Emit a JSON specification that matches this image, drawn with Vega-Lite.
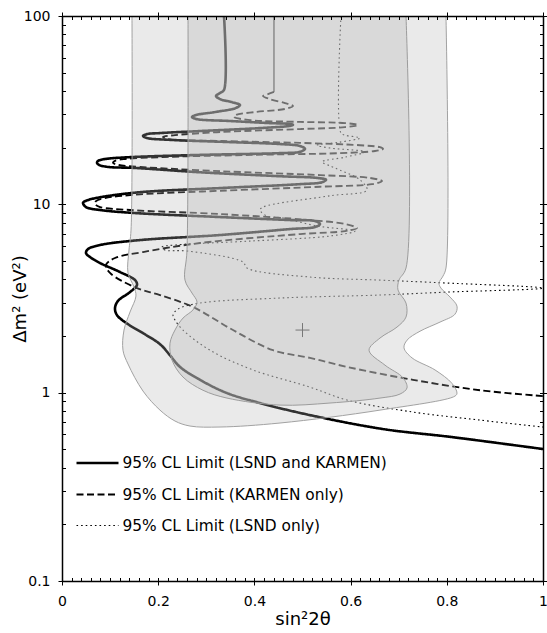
{
  "$schema": "https://vega.github.io/schema/vega-lite/v6.json",
  "width": 481,
  "height": 565,
  "autosize": "none",
  "padding": {"left": 62, "top": 16, "right": 4, "bottom": 52},
  "config": {"font": "DejaVu Sans", "view": {"stroke": null}, "axis": {"grid": false}},
  "datasets": {
    "lines": [
      {"s": "95% CL Limit (LSND and KARMEN)", "i": 1, "x": 0.3368, "y": 100},
      {"s": "95% CL Limit (LSND and KARMEN)", "i": 2, "x": 0.3368, "y": 40.5},
      {"s": "95% CL Limit (LSND and KARMEN)", "i": 3, "x": 0.3285, "y": 39.0},
      {"s": "95% CL Limit (LSND and KARMEN)", "i": 4, "x": 0.3202, "y": 37.6},
      {"s": "95% CL Limit (LSND and KARMEN)", "i": 5, "x": 0.3285, "y": 36.2},
      {"s": "95% CL Limit (LSND and KARMEN)", "i": 6, "x": 0.3534, "y": 34.9},
      {"s": "95% CL Limit (LSND and KARMEN)", "i": 7, "x": 0.3701, "y": 33.7},
      {"s": "95% CL Limit (LSND and KARMEN)", "i": 8, "x": 0.3617, "y": 32.5},
      {"s": "95% CL Limit (LSND and KARMEN)", "i": 9, "x": 0.3181, "y": 30.9},
      {"s": "95% CL Limit (LSND and KARMEN)", "i": 10, "x": 0.2786, "y": 29.8},
      {"s": "95% CL Limit (LSND and KARMEN)", "i": 11, "x": 0.2703, "y": 29.1},
      {"s": "95% CL Limit (LSND and KARMEN)", "i": 12, "x": 0.2786, "y": 28.4},
      {"s": "95% CL Limit (LSND and KARMEN)", "i": 13, "x": 0.3493, "y": 27.7},
      {"s": "95% CL Limit (LSND and KARMEN)", "i": 14, "x": 0.4324, "y": 27.0},
      {"s": "95% CL Limit (LSND and KARMEN)", "i": 15, "x": 0.4740, "y": 26.7},
      {"s": "95% CL Limit (LSND and KARMEN)", "i": 16, "x": 0.4802, "y": 26.4},
      {"s": "95% CL Limit (LSND and KARMEN)", "i": 17, "x": 0.4740, "y": 26.1},
      {"s": "95% CL Limit (LSND and KARMEN)", "i": 18, "x": 0.4116, "y": 25.4},
      {"s": "95% CL Limit (LSND and KARMEN)", "i": 19, "x": 0.2869, "y": 24.5},
      {"s": "95% CL Limit (LSND and KARMEN)", "i": 20, "x": 0.2037, "y": 23.9},
      {"s": "95% CL Limit (LSND and KARMEN)", "i": 21, "x": 0.1767, "y": 23.6},
      {"s": "95% CL Limit (LSND and KARMEN)", "i": 22, "x": 0.1684, "y": 23.1},
      {"s": "95% CL Limit (LSND and KARMEN)", "i": 23, "x": 0.1767, "y": 22.5},
      {"s": "95% CL Limit (LSND and KARMEN)", "i": 24, "x": 0.2245, "y": 22.0},
      {"s": "95% CL Limit (LSND and KARMEN)", "i": 25, "x": 0.3493, "y": 21.4},
      {"s": "95% CL Limit (LSND and KARMEN)", "i": 26, "x": 0.4532, "y": 20.9},
      {"s": "95% CL Limit (LSND and KARMEN)", "i": 27, "x": 0.4948, "y": 20.4},
      {"s": "95% CL Limit (LSND and KARMEN)", "i": 28, "x": 0.5052, "y": 19.7},
      {"s": "95% CL Limit (LSND and KARMEN)", "i": 29, "x": 0.4948, "y": 19.0},
      {"s": "95% CL Limit (LSND and KARMEN)", "i": 30, "x": 0.4532, "y": 18.7},
      {"s": "95% CL Limit (LSND and KARMEN)", "i": 31, "x": 0.2869, "y": 18.3},
      {"s": "95% CL Limit (LSND and KARMEN)", "i": 32, "x": 0.1414, "y": 17.8},
      {"s": "95% CL Limit (LSND and KARMEN)", "i": 33, "x": 0.0894, "y": 17.4},
      {"s": "95% CL Limit (LSND and KARMEN)", "i": 34, "x": 0.0748, "y": 17.0},
      {"s": "95% CL Limit (LSND and KARMEN)", "i": 35, "x": 0.0728, "y": 16.6},
      {"s": "95% CL Limit (LSND and KARMEN)", "i": 36, "x": 0.0769, "y": 16.2},
      {"s": "95% CL Limit (LSND and KARMEN)", "i": 37, "x": 0.0956, "y": 15.8},
      {"s": "95% CL Limit (LSND and KARMEN)", "i": 38, "x": 0.1518, "y": 15.6},
      {"s": "95% CL Limit (LSND and KARMEN)", "i": 39, "x": 0.2869, "y": 14.8},
      {"s": "95% CL Limit (LSND and KARMEN)", "i": 40, "x": 0.4532, "y": 14.1},
      {"s": "95% CL Limit (LSND and KARMEN)", "i": 41, "x": 0.5322, "y": 13.8},
      {"s": "95% CL Limit (LSND and KARMEN)", "i": 42, "x": 0.5489, "y": 13.5},
      {"s": "95% CL Limit (LSND and KARMEN)", "i": 43, "x": 0.5405, "y": 13.1},
      {"s": "95% CL Limit (LSND and KARMEN)", "i": 44, "x": 0.4948, "y": 12.8},
      {"s": "95% CL Limit (LSND and KARMEN)", "i": 45, "x": 0.3285, "y": 12.2},
      {"s": "95% CL Limit (LSND and KARMEN)", "i": 46, "x": 0.1622, "y": 11.6},
      {"s": "95% CL Limit (LSND and KARMEN)", "i": 47, "x": 0.0790, "y": 10.9},
      {"s": "95% CL Limit (LSND and KARMEN)", "i": 48, "x": 0.0520, "y": 10.5},
      {"s": "95% CL Limit (LSND and KARMEN)", "i": 49, "x": 0.0437, "y": 10.2},
      {"s": "95% CL Limit (LSND and KARMEN)", "i": 50, "x": 0.0499, "y": 9.67},
      {"s": "95% CL Limit (LSND and KARMEN)", "i": 51, "x": 0.0790, "y": 9.33},
      {"s": "95% CL Limit (LSND and KARMEN)", "i": 52, "x": 0.1518, "y": 8.99},
      {"s": "95% CL Limit (LSND and KARMEN)", "i": 53, "x": 0.3285, "y": 8.56},
      {"s": "95% CL Limit (LSND and KARMEN)", "i": 54, "x": 0.4740, "y": 8.25},
      {"s": "95% CL Limit (LSND and KARMEN)", "i": 55, "x": 0.5260, "y": 8.15},
      {"s": "95% CL Limit (LSND and KARMEN)", "i": 56, "x": 0.5364, "y": 7.86},
      {"s": "95% CL Limit (LSND and KARMEN)", "i": 57, "x": 0.5260, "y": 7.58},
      {"s": "95% CL Limit (LSND and KARMEN)", "i": 58, "x": 0.4740, "y": 7.39},
      {"s": "95% CL Limit (LSND and KARMEN)", "i": 59, "x": 0.3285, "y": 6.87},
      {"s": "95% CL Limit (LSND and KARMEN)", "i": 60, "x": 0.1622, "y": 6.46},
      {"s": "95% CL Limit (LSND and KARMEN)", "i": 61, "x": 0.0790, "y": 6.08},
      {"s": "95% CL Limit (LSND and KARMEN)", "i": 62, "x": 0.0541, "y": 5.79},
      {"s": "95% CL Limit (LSND and KARMEN)", "i": 63, "x": 0.0499, "y": 5.51},
      {"s": "95% CL Limit (LSND and KARMEN)", "i": 64, "x": 0.0582, "y": 5.25},
      {"s": "95% CL Limit (LSND and KARMEN)", "i": 65, "x": 0.0790, "y": 4.88},
      {"s": "95% CL Limit (LSND and KARMEN)", "i": 66, "x": 0.1206, "y": 4.37},
      {"s": "95% CL Limit (LSND and KARMEN)", "i": 67, "x": 0.1518, "y": 3.96},
      {"s": "95% CL Limit (LSND and KARMEN)", "i": 68, "x": 0.1559, "y": 3.73},
      {"s": "95% CL Limit (LSND and KARMEN)", "i": 69, "x": 0.1414, "y": 3.42},
      {"s": "95% CL Limit (LSND and KARMEN)", "i": 70, "x": 0.1164, "y": 3.07},
      {"s": "95% CL Limit (LSND and KARMEN)", "i": 71, "x": 0.1102, "y": 2.81},
      {"s": "95% CL Limit (LSND and KARMEN)", "i": 72, "x": 0.1143, "y": 2.58},
      {"s": "95% CL Limit (LSND and KARMEN)", "i": 73, "x": 0.1372, "y": 2.31},
      {"s": "95% CL Limit (LSND and KARMEN)", "i": 74, "x": 0.1684, "y": 2.07},
      {"s": "95% CL Limit (LSND and KARMEN)", "i": 75, "x": 0.2037, "y": 1.81},
      {"s": "95% CL Limit (LSND and KARMEN)", "i": 76, "x": 0.2245, "y": 1.58},
      {"s": "95% CL Limit (LSND and KARMEN)", "i": 77, "x": 0.2453, "y": 1.37},
      {"s": "95% CL Limit (LSND and KARMEN)", "i": 78, "x": 0.2869, "y": 1.17},
      {"s": "95% CL Limit (LSND and KARMEN)", "i": 79, "x": 0.3430, "y": 0.995},
      {"s": "95% CL Limit (LSND and KARMEN)", "i": 80, "x": 0.4116, "y": 0.881},
      {"s": "95% CL Limit (LSND and KARMEN)", "i": 81, "x": 0.5156, "y": 0.760},
      {"s": "95% CL Limit (LSND and KARMEN)", "i": 82, "x": 0.6674, "y": 0.641},
      {"s": "95% CL Limit (LSND and KARMEN)", "i": 83, "x": 0.8108, "y": 0.581},
      {"s": "95% CL Limit (LSND and KARMEN)", "i": 84, "x": 1.0, "y": 0.502},

      {"s": "95% CL Limit (KARMEN only)", "i": 1, "x": 0.4407, "y": 39.5},
      {"s": "95% CL Limit (KARMEN only)", "i": 2, "x": 0.4283, "y": 38.5},
      {"s": "95% CL Limit (KARMEN only)", "i": 3, "x": 0.4179, "y": 37.6},
      {"s": "95% CL Limit (KARMEN only)", "i": 4, "x": 0.4324, "y": 36.2},
      {"s": "95% CL Limit (KARMEN only)", "i": 5, "x": 0.4636, "y": 34.5},
      {"s": "95% CL Limit (KARMEN only)", "i": 6, "x": 0.4802, "y": 33.3},
      {"s": "95% CL Limit (KARMEN only)", "i": 7, "x": 0.4636, "y": 32.1},
      {"s": "95% CL Limit (KARMEN only)", "i": 8, "x": 0.4012, "y": 30.9},
      {"s": "95% CL Limit (KARMEN only)", "i": 9, "x": 0.3617, "y": 29.8},
      {"s": "95% CL Limit (KARMEN only)", "i": 10, "x": 0.3576, "y": 29.1},
      {"s": "95% CL Limit (KARMEN only)", "i": 11, "x": 0.3909, "y": 28.0},
      {"s": "95% CL Limit (KARMEN only)", "i": 12, "x": 0.4948, "y": 27.4},
      {"s": "95% CL Limit (KARMEN only)", "i": 13, "x": 0.5884, "y": 27.0},
      {"s": "95% CL Limit (KARMEN only)", "i": 14, "x": 0.6154, "y": 26.4},
      {"s": "95% CL Limit (KARMEN only)", "i": 15, "x": 0.5884, "y": 25.7},
      {"s": "95% CL Limit (KARMEN only)", "i": 16, "x": 0.4948, "y": 25.1},
      {"s": "95% CL Limit (KARMEN only)", "i": 17, "x": 0.3285, "y": 24.2},
      {"s": "95% CL Limit (KARMEN only)", "i": 18, "x": 0.2349, "y": 23.3},
      {"s": "95% CL Limit (KARMEN only)", "i": 19, "x": 0.2100, "y": 22.8},
      {"s": "95% CL Limit (KARMEN only)", "i": 20, "x": 0.2204, "y": 22.2},
      {"s": "95% CL Limit (KARMEN only)", "i": 21, "x": 0.3285, "y": 21.7},
      {"s": "95% CL Limit (KARMEN only)", "i": 22, "x": 0.4948, "y": 21.2},
      {"s": "95% CL Limit (KARMEN only)", "i": 23, "x": 0.6195, "y": 20.6},
      {"s": "95% CL Limit (KARMEN only)", "i": 24, "x": 0.6611, "y": 20.1},
      {"s": "95% CL Limit (KARMEN only)", "i": 25, "x": 0.6674, "y": 19.7},
      {"s": "95% CL Limit (KARMEN only)", "i": 26, "x": 0.6507, "y": 19.2},
      {"s": "95% CL Limit (KARMEN only)", "i": 27, "x": 0.5780, "y": 18.7},
      {"s": "95% CL Limit (KARMEN only)", "i": 28, "x": 0.3909, "y": 18.3},
      {"s": "95% CL Limit (KARMEN only)", "i": 29, "x": 0.2037, "y": 17.8},
      {"s": "95% CL Limit (KARMEN only)", "i": 30, "x": 0.1310, "y": 17.4},
      {"s": "95% CL Limit (KARMEN only)", "i": 31, "x": 0.1102, "y": 17.0},
      {"s": "95% CL Limit (KARMEN only)", "i": 32, "x": 0.1060, "y": 16.6},
      {"s": "95% CL Limit (KARMEN only)", "i": 33, "x": 0.1164, "y": 16.2},
      {"s": "95% CL Limit (KARMEN only)", "i": 34, "x": 0.1622, "y": 15.8},
      {"s": "95% CL Limit (KARMEN only)", "i": 35, "x": 0.3285, "y": 15.0},
      {"s": "95% CL Limit (KARMEN only)", "i": 36, "x": 0.5364, "y": 14.3},
      {"s": "95% CL Limit (KARMEN only)", "i": 37, "x": 0.6403, "y": 13.8},
      {"s": "95% CL Limit (KARMEN only)", "i": 38, "x": 0.6653, "y": 13.3},
      {"s": "95% CL Limit (KARMEN only)", "i": 39, "x": 0.6445, "y": 12.8},
      {"s": "95% CL Limit (KARMEN only)", "i": 40, "x": 0.5364, "y": 12.4},
      {"s": "95% CL Limit (KARMEN only)", "i": 41, "x": 0.3285, "y": 11.8},
      {"s": "95% CL Limit (KARMEN only)", "i": 42, "x": 0.1622, "y": 11.3},
      {"s": "95% CL Limit (KARMEN only)", "i": 43, "x": 0.0894, "y": 10.8},
      {"s": "95% CL Limit (KARMEN only)", "i": 44, "x": 0.0707, "y": 10.4},
      {"s": "95% CL Limit (KARMEN only)", "i": 45, "x": 0.0686, "y": 10.04},
      {"s": "95% CL Limit (KARMEN only)", "i": 46, "x": 0.0790, "y": 9.67},
      {"s": "95% CL Limit (KARMEN only)", "i": 47, "x": 0.1414, "y": 9.33},
      {"s": "95% CL Limit (KARMEN only)", "i": 48, "x": 0.3285, "y": 8.88},
      {"s": "95% CL Limit (KARMEN only)", "i": 49, "x": 0.5156, "y": 8.25},
      {"s": "95% CL Limit (KARMEN only)", "i": 50, "x": 0.5884, "y": 7.86},
      {"s": "95% CL Limit (KARMEN only)", "i": 51, "x": 0.6133, "y": 7.48},
      {"s": "95% CL Limit (KARMEN only)", "i": 52, "x": 0.5884, "y": 7.21},
      {"s": "95% CL Limit (KARMEN only)", "i": 53, "x": 0.4948, "y": 6.95},
      {"s": "95% CL Limit (KARMEN only)", "i": 54, "x": 0.2869, "y": 6.23},
      {"s": "95% CL Limit (KARMEN only)", "i": 55, "x": 0.1684, "y": 5.58},
      {"s": "95% CL Limit (KARMEN only)", "i": 56, "x": 0.1102, "y": 5.19},
      {"s": "95% CL Limit (KARMEN only)", "i": 57, "x": 0.0915, "y": 4.76},
      {"s": "95% CL Limit (KARMEN only)", "i": 58, "x": 0.0998, "y": 4.32},
      {"s": "95% CL Limit (KARMEN only)", "i": 59, "x": 0.1559, "y": 3.59},
      {"s": "95% CL Limit (KARMEN only)", "i": 60, "x": 0.2037, "y": 3.30},
      {"s": "95% CL Limit (KARMEN only)", "i": 61, "x": 0.2723, "y": 2.85},
      {"s": "95% CL Limit (KARMEN only)", "i": 62, "x": 0.3555, "y": 2.15},
      {"s": "95% CL Limit (KARMEN only)", "i": 63, "x": 0.4387, "y": 1.68},
      {"s": "95% CL Limit (KARMEN only)", "i": 64, "x": 0.5156, "y": 1.53},
      {"s": "95% CL Limit (KARMEN only)", "i": 65, "x": 0.5925, "y": 1.37},
      {"s": "95% CL Limit (KARMEN only)", "i": 66, "x": 0.7297, "y": 1.17},
      {"s": "95% CL Limit (KARMEN only)", "i": 67, "x": 0.8690, "y": 1.03},
      {"s": "95% CL Limit (KARMEN only)", "i": 68, "x": 1.0, "y": 0.959},

      {"s": "95% CL Limit (LSND only)", "i": 1, "x": 0.5800, "y": 100},
      {"s": "95% CL Limit (LSND only)", "i": 2, "x": 0.5800, "y": 23.9},
      {"s": "95% CL Limit (LSND only)", "i": 3, "x": 0.5884, "y": 23.3},
      {"s": "95% CL Limit (LSND only)", "i": 4, "x": 0.6195, "y": 22.5},
      {"s": "95% CL Limit (LSND only)", "i": 5, "x": 0.5780, "y": 21.4},
      {"s": "95% CL Limit (LSND only)", "i": 6, "x": 0.5301, "y": 20.6},
      {"s": "95% CL Limit (LSND only)", "i": 7, "x": 0.5572, "y": 19.9},
      {"s": "95% CL Limit (LSND only)", "i": 8, "x": 0.6299, "y": 19.0},
      {"s": "95% CL Limit (LSND only)", "i": 9, "x": 0.5884, "y": 17.8},
      {"s": "95% CL Limit (LSND only)", "i": 10, "x": 0.5405, "y": 16.8},
      {"s": "95% CL Limit (LSND only)", "i": 11, "x": 0.5572, "y": 16.0},
      {"s": "95% CL Limit (LSND only)", "i": 12, "x": 0.5780, "y": 15.2},
      {"s": "95% CL Limit (LSND only)", "i": 13, "x": 0.6195, "y": 13.5},
      {"s": "95% CL Limit (LSND only)", "i": 14, "x": 0.6341, "y": 11.9},
      {"s": "95% CL Limit (LSND only)", "i": 15, "x": 0.5572, "y": 11.1},
      {"s": "95% CL Limit (LSND only)", "i": 16, "x": 0.4179, "y": 9.67},
      {"s": "95% CL Limit (LSND only)", "i": 17, "x": 0.4116, "y": 9.33},
      {"s": "95% CL Limit (LSND only)", "i": 18, "x": 0.4262, "y": 8.67},
      {"s": "95% CL Limit (LSND only)", "i": 19, "x": 0.4595, "y": 8.46},
      {"s": "95% CL Limit (LSND only)", "i": 20, "x": 0.5301, "y": 7.67},
      {"s": "95% CL Limit (LSND only)", "i": 21, "x": 0.6091, "y": 7.21},
      {"s": "95% CL Limit (LSND only)", "i": 22, "x": 0.5572, "y": 6.79},
      {"s": "95% CL Limit (LSND only)", "i": 23, "x": 0.3909, "y": 6.38},
      {"s": "95% CL Limit (LSND only)", "i": 24, "x": 0.2349, "y": 6.08},
      {"s": "95% CL Limit (LSND only)", "i": 25, "x": 0.2079, "y": 5.93},
      {"s": "95% CL Limit (LSND only)", "i": 26, "x": 0.2141, "y": 5.72},
      {"s": "95% CL Limit (LSND only)", "i": 27, "x": 0.2599, "y": 5.65},
      {"s": "95% CL Limit (LSND only)", "i": 28, "x": 0.3763, "y": 4.94},
      {"s": "95% CL Limit (LSND only)", "i": 29, "x": 0.3846, "y": 4.59},
      {"s": "95% CL Limit (LSND only)", "i": 30, "x": 0.5156, "y": 4.11},
      {"s": "95% CL Limit (LSND only)", "i": 31, "x": 0.6611, "y": 3.96},
      {"s": "95% CL Limit (LSND only)", "i": 32, "x": 0.8004, "y": 3.82},
      {"s": "95% CL Limit (LSND only)", "i": 33, "x": 1.0, "y": 3.59},
      {"s": "95% CL Limit (LSND only)", "i": 34, "x": 0.8004, "y": 3.42},
      {"s": "95% CL Limit (LSND only)", "i": 35, "x": 0.6611, "y": 3.30},
      {"s": "95% CL Limit (LSND only)", "i": 36, "x": 0.4532, "y": 3.18},
      {"s": "95% CL Limit (LSND only)", "i": 37, "x": 0.2869, "y": 2.99},
      {"s": "95% CL Limit (LSND only)", "i": 38, "x": 0.2412, "y": 2.78},
      {"s": "95% CL Limit (LSND only)", "i": 39, "x": 0.2308, "y": 2.58},
      {"s": "95% CL Limit (LSND only)", "i": 40, "x": 0.2349, "y": 2.43},
      {"s": "95% CL Limit (LSND only)", "i": 41, "x": 0.2516, "y": 2.15},
      {"s": "95% CL Limit (LSND only)", "i": 42, "x": 0.3077, "y": 1.68},
      {"s": "95% CL Limit (LSND only)", "i": 43, "x": 0.3971, "y": 1.32},
      {"s": "95% CL Limit (LSND only)", "i": 44, "x": 0.5156, "y": 1.07},
      {"s": "95% CL Limit (LSND only)", "i": 45, "x": 0.5925, "y": 0.914},
      {"s": "95% CL Limit (LSND only)", "i": 46, "x": 0.7297, "y": 0.789},
      {"s": "95% CL Limit (LSND only)", "i": 47, "x": 0.8690, "y": 0.715},
      {"s": "95% CL Limit (LSND only)", "i": 48, "x": 1.0, "y": 0.657}
    ],
    "karmenTop": [
      {"i": 1, "x": 0.4407, "y": 100},
      {"i": 2, "x": 0.4407, "y": 39.5}
    ],
    "regions": [
      {"r": "outer", "i": 1, "x": 0.7983, "y": 100},
      {"r": "outer", "i": 2, "x": 0.7983, "y": 4.59},
      {"r": "outer", "i": 3, "x": 0.7921, "y": 4.16},
      {"r": "outer", "i": 4, "x": 0.7838, "y": 3.82},
      {"r": "outer", "i": 5, "x": 0.7879, "y": 3.59},
      {"r": "outer", "i": 6, "x": 0.8067, "y": 3.22},
      {"r": "outer", "i": 7, "x": 0.8212, "y": 2.88},
      {"r": "outer", "i": 8, "x": 0.8170, "y": 2.61},
      {"r": "outer", "i": 9, "x": 0.7859, "y": 2.37},
      {"r": "outer", "i": 10, "x": 0.7443, "y": 2.12},
      {"r": "outer", "i": 11, "x": 0.7173, "y": 1.90},
      {"r": "outer", "i": 12, "x": 0.7110, "y": 1.73},
      {"r": "outer", "i": 13, "x": 0.7277, "y": 1.53},
      {"r": "outer", "i": 14, "x": 0.7755, "y": 1.32},
      {"r": "outer", "i": 15, "x": 0.8108, "y": 1.12},
      {"r": "outer", "i": 16, "x": 0.8212, "y": 0.995},
      {"r": "outer", "i": 17, "x": 0.8170, "y": 0.959},
      {"r": "outer", "i": 18, "x": 0.6611, "y": 0.808},
      {"r": "outer", "i": 19, "x": 0.4532, "y": 0.690},
      {"r": "outer", "i": 20, "x": 0.3285, "y": 0.657},
      {"r": "outer", "i": 21, "x": 0.2661, "y": 0.665},
      {"r": "outer", "i": 22, "x": 0.2349, "y": 0.707},
      {"r": "outer", "i": 23, "x": 0.2037, "y": 0.808},
      {"r": "outer", "i": 24, "x": 0.1684, "y": 1.02},
      {"r": "outer", "i": 25, "x": 0.1372, "y": 1.42},
      {"r": "outer", "i": 26, "x": 0.1268, "y": 1.68},
      {"r": "outer", "i": 27, "x": 0.1289, "y": 2.15},
      {"r": "outer", "i": 28, "x": 0.1414, "y": 2.68},
      {"r": "outer", "i": 29, "x": 0.1538, "y": 3.26},
      {"r": "outer", "i": 30, "x": 0.1497, "y": 3.64},
      {"r": "outer", "i": 31, "x": 0.1372, "y": 4.32},
      {"r": "outer", "i": 32, "x": 0.1393, "y": 5.72},
      {"r": "outer", "i": 33, "x": 0.1435, "y": 7.30},
      {"r": "outer", "i": 34, "x": 0.1455, "y": 100},
      {"r": "inner", "i": 1, "x": 0.7152, "y": 100},
      {"r": "inner", "i": 2, "x": 0.7152, "y": 4.59},
      {"r": "inner", "i": 3, "x": 0.7006, "y": 3.96},
      {"r": "inner", "i": 4, "x": 0.6985, "y": 3.51},
      {"r": "inner", "i": 5, "x": 0.7152, "y": 2.99},
      {"r": "inner", "i": 6, "x": 0.7152, "y": 2.52},
      {"r": "inner", "i": 7, "x": 0.6965, "y": 2.23},
      {"r": "inner", "i": 8, "x": 0.6611, "y": 1.95},
      {"r": "inner", "i": 9, "x": 0.6383, "y": 1.68},
      {"r": "inner", "i": 10, "x": 0.6715, "y": 1.40},
      {"r": "inner", "i": 11, "x": 0.7089, "y": 1.20},
      {"r": "inner", "i": 12, "x": 0.7173, "y": 1.06},
      {"r": "inner", "i": 13, "x": 0.7027, "y": 0.983},
      {"r": "inner", "i": 14, "x": 0.6611, "y": 0.936},
      {"r": "inner", "i": 15, "x": 0.5572, "y": 0.881},
      {"r": "inner", "i": 16, "x": 0.4532, "y": 0.859},
      {"r": "inner", "i": 17, "x": 0.3430, "y": 0.936},
      {"r": "inner", "i": 18, "x": 0.2931, "y": 1.03},
      {"r": "inner", "i": 19, "x": 0.2516, "y": 1.21},
      {"r": "inner", "i": 20, "x": 0.2287, "y": 1.49},
      {"r": "inner", "i": 21, "x": 0.2245, "y": 1.83},
      {"r": "inner", "i": 22, "x": 0.2349, "y": 2.15},
      {"r": "inner", "i": 23, "x": 0.2516, "y": 2.49},
      {"r": "inner", "i": 24, "x": 0.2723, "y": 2.75},
      {"r": "inner", "i": 25, "x": 0.2807, "y": 3.03},
      {"r": "inner", "i": 26, "x": 0.2703, "y": 3.38},
      {"r": "inner", "i": 27, "x": 0.2557, "y": 3.96},
      {"r": "inner", "i": 28, "x": 0.2599, "y": 5.72},
      {"r": "inner", "i": 29, "x": 0.2620, "y": 100}
    ],
    "bestFit": [{"x": 0.5, "y": 2.15}]
  },
  "layer": [
    {
      "data": {"name": "lines"},
      "mark": {"type": "line", "interpolate": "catmull-rom", "color": "black"},
      "encoding": {
        "x": {"field": "x", "type": "quantitative", "scale": {"domain": [0, 1], "nice": false, "zero": false},
          "axis": {"orient": "bottom", "values": [0, 0.2, 0.4, 0.6, 0.8, 1], "format": "~g", "tickSize": 4, "tickColor": "black", "tickWidth": 1,
            "domain": true, "domainColor": "black", "domainWidth": 1.5, "zindex": 1,
            "labelFont": "DejaVu Sans", "labelFontSize": 14, "labelColor": "black", "labelPadding": 9, "labelFlush": false,
            "title": "sin²2θ", "titleFont": "DejaVu Sans", "titleFontSize": 18, "titleFontWeight": "normal", "titleColor": "black", "titlePadding": 2}},
        "y": {"field": "y", "type": "quantitative", "scale": {"type": "log", "domain": [0.1, 100], "nice": false},
          "axis": {"orient": "left", "values": [0.1, 1, 10, 100], "format": "~g", "tickSize": 4, "tickColor": "black", "tickWidth": 1,
            "domain": true, "domainColor": "black", "domainWidth": 1.5, "zindex": 1,
            "labelFont": "DejaVu Sans", "labelFontSize": 14, "labelColor": "black", "labelPadding": 8,
            "title": "Δm² (eV²)", "titleFont": "DejaVu Sans", "titleFontSize": 18, "titleFontWeight": "normal", "titleColor": "black", "titlePadding": -6}},
        "order": {"field": "i", "type": "quantitative"},
        "strokeDash": {"field": "s", "type": "nominal",
          "scale": {"domain": ["95% CL Limit (LSND and KARMEN)", "95% CL Limit (KARMEN only)", "95% CL Limit (LSND only)"], "range": [[1, 0], [7, 3.5], [1.6, 3]]},
          "legend": {"orient": "none", "legendX": 23.5, "legendY": 435, "title": null, "symbolType": "M-2,0H2", "symbolSize": 441,
            "symbolStrokeColor": "black", "labelFont": "DejaVu Sans", "labelFontSize": 15.4, "labelColor": "black", "labelLimit": 500,
            "labelOffset": 13, "rowPadding": 11, "padding": 0}},
        "strokeWidth": {"field": "s", "type": "nominal",
          "scale": {"domain": ["95% CL Limit (LSND and KARMEN)", "95% CL Limit (KARMEN only)", "95% CL Limit (LSND only)"], "range": [2.6, 1.1, 1.6]},
          "legend": {"orient": "none", "legendX": 23.5, "legendY": 435, "title": null, "symbolType": "M-2,0H2", "symbolSize": 441,
            "symbolStrokeColor": "black", "labelFont": "DejaVu Sans", "labelFontSize": 15.4, "labelColor": "black", "labelLimit": 500,
            "labelOffset": 13, "rowPadding": 11, "padding": 0}}
      }
    },
    {
      "data": {"name": "karmenTop"},
      "mark": {"type": "line", "color": "black", "strokeWidth": 1.1},
      "encoding": {
        "x": {"field": "x", "type": "quantitative",
          "axis": {"orient": "bottom", "values": [0,0.02,0.04,0.06,0.08,0.1,0.12,0.14,0.16,0.18,0.2,0.22,0.24,0.26,0.28,0.3,0.32,0.34,0.36,0.38,0.4,0.42,0.44,0.46,0.48,0.5,0.52,0.54,0.56,0.58,0.6,0.62,0.64,0.66,0.68,0.7,0.72,0.74,0.76,0.78,0.8,0.82,0.84,0.86,0.88,0.9,0.92,0.94,0.96,0.98,1],
            "labels": false, "tickSize": -3.5, "tickColor": "black", "domain": false, "title": null, "zindex": 1}},
        "y": {"field": "y", "type": "quantitative",
          "axis": {"orient": "left", "values": [0.1,0.2,0.3,0.4,0.5,0.6,0.7,0.8,0.9,1,2,3,4,5,6,7,8,9,10,20,30,40,50,60,70,80,90,100],
            "labels": false, "tickSize": -3.5, "tickColor": "black", "domain": false, "title": null, "zindex": 1}},
        "order": {"field": "i", "type": "quantitative"}
      }
    },
    {
      "data": {"name": "regions"},
      "transform": [{"filter": "datum.r === 'outer'"}],
      "mark": {"type": "line", "interpolate": "catmull-rom", "fill": "#b2b2b2", "fillOpacity": 0.28, "stroke": "#a2a2a2", "strokeWidth": 1},
      "encoding": {
        "x": {"field": "x", "type": "quantitative",
          "axis": {"orient": "top", "values": [0, 0.2, 0.4, 0.6, 0.8, 1], "labels": false, "tickSize": 4, "tickColor": "black",
            "domain": true, "domainColor": "black", "domainWidth": 1.5, "title": null, "zindex": 1}},
        "y": {"field": "y", "type": "quantitative",
          "axis": {"orient": "right", "values": [0.1, 1, 10, 100], "labels": false, "tickSize": 4, "tickColor": "black",
            "domain": true, "domainColor": "black", "domainWidth": 1.5, "title": null, "zindex": 1}},
        "order": {"field": "i", "type": "quantitative"}
      }
    },
    {
      "data": {"name": "regions"},
      "transform": [{"filter": "datum.r === 'inner'"}],
      "mark": {"type": "line", "interpolate": "catmull-rom", "fill": "#c1c1c1", "fillOpacity": 0.42, "stroke": "#9c9c9c", "strokeWidth": 1},
      "encoding": {
        "x": {"field": "x", "type": "quantitative",
          "axis": {"orient": "top", "values": [0,0.02,0.04,0.06,0.08,0.1,0.12,0.14,0.16,0.18,0.2,0.22,0.24,0.26,0.28,0.3,0.32,0.34,0.36,0.38,0.4,0.42,0.44,0.46,0.48,0.5,0.52,0.54,0.56,0.58,0.6,0.62,0.64,0.66,0.68,0.7,0.72,0.74,0.76,0.78,0.8,0.82,0.84,0.86,0.88,0.9,0.92,0.94,0.96,0.98,1],
            "labels": false, "tickSize": -3.5, "tickColor": "black", "domain": false, "title": null, "zindex": 1}},
        "y": {"field": "y", "type": "quantitative",
          "axis": {"orient": "right", "values": [0.1,0.2,0.3,0.4,0.5,0.6,0.7,0.8,0.9,1,2,3,4,5,6,7,8,9,10,20,30,40,50,60,70,80,90,100],
            "labels": false, "tickSize": -3.5, "tickColor": "black", "domain": false, "title": null, "zindex": 1}},
        "order": {"field": "i", "type": "quantitative"}
      }
    },
    {
      "data": {"name": "bestFit"},
      "mark": {"type": "point", "shape": "M-1,0H1M0,-1V1", "size": 196, "filled": false, "stroke": "#777777", "strokeWidth": 1, "opacity": 1},
      "encoding": {
        "x": {"field": "x", "type": "quantitative", "axis": null},
        "y": {"field": "y", "type": "quantitative", "axis": null}
      }
    }
  ],
  "resolve": {"axis": {"x": "independent", "y": "independent"}}
}
